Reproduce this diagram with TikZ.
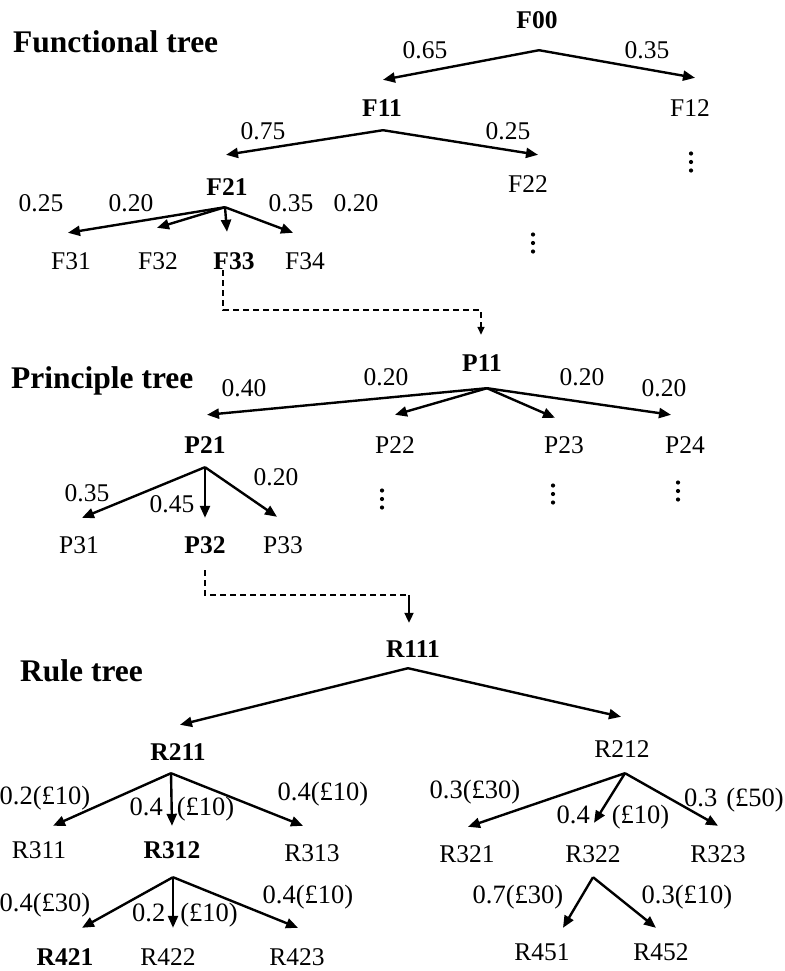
\documentclass[tikz,border=0pt]{standalone}
\usepackage{fontspec}
\setmainfont{Liberation Serif}
\usetikzlibrary{arrows.meta}
\begin{document}
\begin{tikzpicture}[x=1pt,y=-1pt,
  lbl/.style={inner sep=0pt, text height=17pt, text depth=0pt, font=\fontsize{25.5}{30}\selectfont},
  blbl/.style={lbl, font=\fontsize{25.5}{30}\selectfont\bfseries},
  cost/.style={inner sep=0pt, text height=17.5pt, text depth=0pt, font=\fontsize{26.5}{30}\selectfont},
  head/.style={inner sep=0pt, anchor=west, text height=21pt, text depth=0pt, font=\fontsize{31.5}{36}\selectfont\bfseries},
  arr/.style={line width=2.4pt, -{Triangle[length=12pt,width=10pt]}},
  link/.style={line width=1.5pt, dash pattern=on 6pt off 4pt},
  linkarr/.style={link, -{Triangle[length=8pt,width=7pt]}},
  vdts/.pic={\foreach \k in {-8.5,0,8.5} \fill (0,\k) circle (2.1);}
]
\useasboundingbox (0,0) rectangle (784,971);

% ---------- headings ----------
\node[head] (hF) at (13,42)  {Functional tree};
\node[head] (hP) at (11,378) {Principle tree};
\node[head] (hR) at (20,671) {Rule tree};

% ---------- functional tree ----------
\node[blbl] (F00) at (537,20)  {F00};
\node[blbl] (F11) at (382,108) {F11};
\node[lbl]  (F12) at (690,108) {F12};
\node[blbl] (F21) at (227,187) {F21};
\node[lbl]  (F22) at (528,184) {F22};
\node[lbl]  (F31) at (71,261)  {F31};
\node[lbl]  (F32) at (158,261) {F32};
\node[blbl] (F33) at (234,261) {F33};
\node[lbl]  (F34) at (305,261) {F34};

\node[lbl] (wF12a) at (425,50)  {0.65};
\node[lbl] (wF12b) at (647,50)  {0.35};
\node[lbl] (wF22a) at (263,131) {0.75};
\node[lbl] (wF22b) at (508,131) {0.25};
\node[lbl] (wF3a)  at (41,203)  {0.25};
\node[lbl] (wF3b)  at (131,203) {0.20};
\node[lbl] (wF3c)  at (291,203) {0.35};
\node[lbl] (wF3d)  at (356,203) {0.20};

\coordinate (F00-o) at ([shift={(2,21.5)}]F00.south);
\coordinate (F11-o) at ([shift={(1,13.5)}]F11.south);
\coordinate (F21-o) at ([shift={(-2,11.5)}]F21.south);
\draw[arr] (F00-o) -- ([shift={(1,-19.5)}]F11.north);
\draw[arr] (F00-o) -- ([shift={(5,-21.5)}]F12.north);
\draw[arr] (F11-o) -- ([shift={(-1,-23.5)}]F21.north);
\draw[arr] (F11-o) -- ([shift={(10,-20.5)}]F22.north);
\draw[arr] (F21-o) -- ([shift={(-3,-19.5)}]F31.north);
\draw[arr] (F21-o) -- ([shift={(-1,-24.5)}]F32.north);
\draw[arr] (F21-o) -- ([shift={(-7,-20.5)}]F33.north);
\draw[arr] (F21-o) -- ([shift={(-12,-19.5)}]F34.north);

\pic at (691,162) {vdts};
\pic at (533,243) {vdts};

% ---------- principle tree ----------
\node[blbl] (P11) at (482,363) {P11};
\node[blbl] (P21) at (205,445) {P21};
\node[lbl]  (P22) at (395,445) {P22};
\node[lbl]  (P23) at (564,445) {P23};
\node[lbl]  (P24) at (685,445) {P24};
\node[lbl]  (P31) at (79,545)  {P31};
\node[blbl] (P32) at (205,545) {P32};
\node[lbl]  (P33) at (283,545) {P33};

\node[lbl] (wP2a) at (244,388) {0.40};
\node[lbl] (wP2b) at (386,377) {0.20};
\node[lbl] (wP2c) at (582,377) {0.20};
\node[lbl] (wP2d) at (664,388) {0.20};
\node[lbl] (wP3a) at (87,493)  {0.35};
\node[lbl] (wP3b) at (172,504) {0.45};
\node[lbl] (wP3c) at (276,477) {0.20};

\coordinate (P11-o) at ([shift={(5,16.5)}]P11.south);
\coordinate (P21-o) at ([shift={(0,13.5)}]P21.south);
\draw[arr] (P11-o) -- ([shift={(2,-21.5)}]P21.north);
\draw[arr] (P11-o) -- ([shift={(0,-21.5)}]P22.north);
\draw[arr] (P11-o) -- ([shift={(-9,-18.5)}]P23.north);
\draw[arr] (P11-o) -- ([shift={(-14,-21.5)}]P24.north);
\draw[arr] (P21-o) -- ([shift={(3,-18.5)}]P31.north);
\draw[arr] (P21-o) -- ([shift={(0,-18.5)}]P32.north);
\draw[arr] (P21-o) -- ([shift={(-6,-19.5)}]P33.north);

\pic at (382,499) {vdts};
\pic at (553,494) {vdts};
\pic at (678,491) {vdts};

% ---------- rule tree ----------
\node[blbl] (R111) at (413,649) {R111};
\node[blbl] (R211) at (178,752) {R211};
\node[lbl]  (R212) at (622,749) {R212};
\node[lbl]  (R311) at (39,850)  {R311};
\node[blbl] (R312) at (172,850) {R312};
\node[lbl]  (R313) at (312,853) {R313};
\node[lbl]  (R321) at (467,854) {R321};
\node[lbl]  (R322) at (593,854) {R322};
\node[lbl]  (R323) at (718,854) {R323};
\node[blbl] (R421) at (65,957)  {R421};
\node[lbl]  (R422) at (168,957) {R422};
\node[lbl]  (R423) at (297,957) {R423};
\node[lbl]  (R451) at (542,952) {R451};
\node[lbl]  (R452) at (661,952) {R452};

\node[cost] (cR31a) at (45,796)  {0.2(£10)};
\node[cost] (cR31b) at (182,807) {0.4\hspace{14pt}(£10)};
\node[cost] (cR31c) at (323,792) {0.4(£10)};
\node[cost] (cR42a) at (45,903)  {0.4(£30)};
\node[cost] (cR42b) at (185,913) {0.2\hspace{15pt}(£10)};
\node[cost] (cR42c) at (308,895) {0.4(£10)};
\node[cost] (cR32a) at (475,790) {0.3(£30)};
\node[cost] (cR32b) at (613,815) {0.4\hspace{22pt}(£10)};
\node[cost] (cR32c) at (734,798) {0.3\hspace{9pt}(£50)};
\node[cost] (cR45a) at (518,895) {0.7(£30)};
\node[cost] (cR45b) at (687,895) {0.3(£10)};

\coordinate (R111-o) at ([shift={(-5,10.5)}]R111.south);
\coordinate (R211-o) at ([shift={(-7,12.5)}]R211.south);
\coordinate (R312-o) at ([shift={(1,18.5)}]R312.south);
\coordinate (R212-o) at ([shift={(3,15.5)}]R212.south);
\coordinate (R322-o) at ([shift={(0,14.5)}]R322.south);
\draw[arr] (R111-o) -- ([shift={(2,-18.5)}]R211.north);
\draw[arr] (R111-o) -- ([shift={(-1,-23.5)}]R212.north);
\draw[arr] (R211-o) -- ([shift={(14,-15.5)}]R311.north);
\draw[arr] (R211-o) -- ([shift={(0,-15.5)}]R312.north);
\draw[arr] (R211-o) -- ([shift={(-9,-18.5)}]R313.north);
\draw[arr] (R312-o) -- ([shift={(17,-20.5)}]R421.north);
\draw[arr] (R312-o) -- ([shift={(5,-20.5)}]R422.north);
\draw[arr] (R312-o) -- ([shift={(1,-20.5)}]R423.north);
\draw[arr] (R212-o) -- ([shift={(1,-18.5)}]R321.north);
\draw[arr] (R212-o) -- ([shift={(1,-22.5)}]R322.north);
\draw[arr] (R212-o) -- ([shift={(0,-19.5)}]R323.north);
\draw[arr] (R322-o) -- ([shift={(21,-15.5)}]R451.north);
\draw[arr] (R322-o) -- ([shift={(-5,-15.5)}]R452.north);

% ---------- links between the trees ----------
\draw[linkarr] ([shift={(-11,0.5)}]F33.south) -- ++(0,40) -| ([shift={(-1,-19.5)}]P11.north);
\coordinate (PR-c) at ([shift={(-4,-45.5)}]R111.north);
\draw[link] ([shift={(0,16.5)}]P32.south) |- (PR-c);
\draw[line width=2pt, -{Triangle[length=10pt,width=9pt]}] (PR-c) -- ([shift={(-4,-17.5)}]R111.north);

\end{tikzpicture}
\end{document}
